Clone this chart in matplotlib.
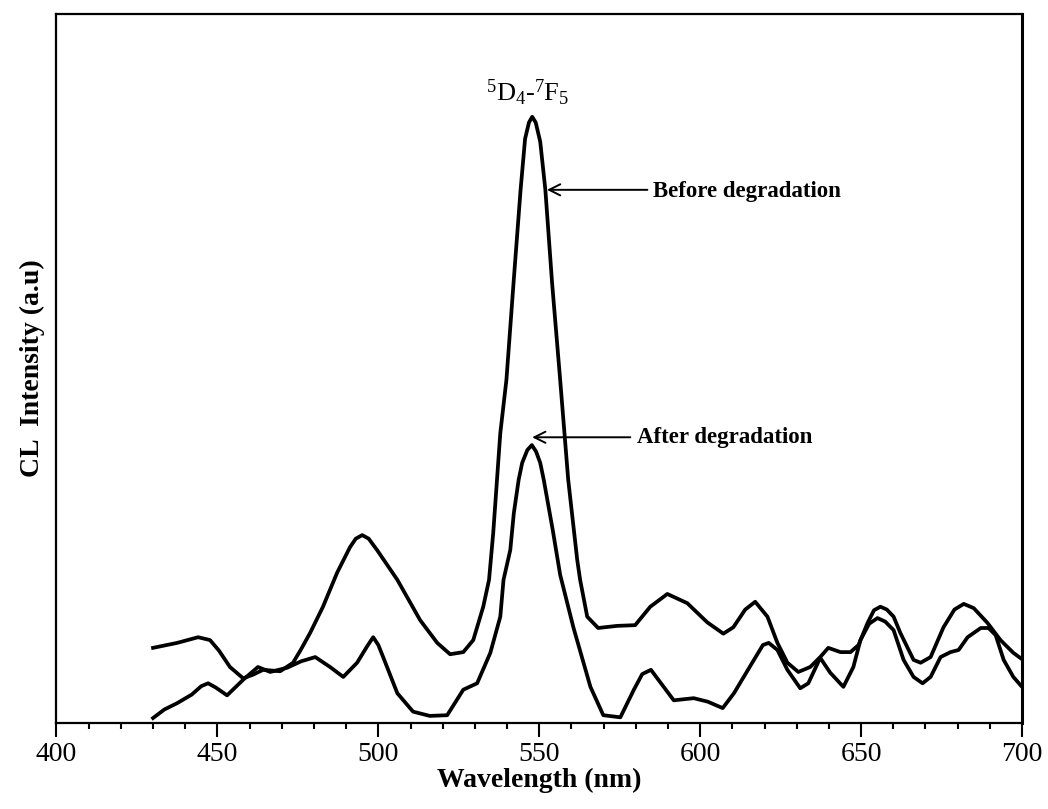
import matplotlib
matplotlib.use("Agg")
import matplotlib.pyplot as plt

plt.rcParams["font.family"] = ["Liberation Serif", "DejaVu Serif"]
plt.rcParams["mathtext.fontset"] = "custom"
plt.rcParams["mathtext.rm"] = "Liberation Serif"
plt.rcParams["mathtext.it"] = "Liberation Serif:italic"
plt.rcParams["mathtext.bf"] = "Liberation Serif:bold"

# CL spectra (wavelength in nm, intensity in arbitrary units)
wl_before = [430.0, 437.5, 444.0, 447.7, 450.5, 453.9, 458.0, 461.0, 464.2, 469.5,
             473.5, 476.0, 478.8, 482.8, 487.2, 491.2, 493.0, 495.0, 497.0, 499.6,
             505.9, 513.0, 518.3, 522.3, 526.4, 529.5, 532.6, 534.4, 535.7, 537.9,
             539.8, 542.0, 544.2, 545.6, 546.8, 547.8, 548.9, 550.3, 551.9, 554.0,
             556.5, 559.0, 561.8, 562.7, 564.9, 568.3, 574.2, 579.8, 584.5, 589.8,
             596.0, 602.2, 607.2, 610.3, 614.0, 617.1, 620.9, 624.0, 627.1, 630.5,
             634.2, 637.3, 639.8, 643.6, 646.7, 649.2, 652.0, 654.0, 656.0, 658.0,
             660.1, 662.2, 666.3, 668.5, 671.6, 675.6, 679.0, 681.9, 685.0, 689.3,
             693.3, 697.3, 700.0]
int_before = [10.6, 11.3, 12.1, 11.7, 10.2, 7.9, 6.3, 6.8, 7.5, 7.3,
              8.5, 10.4, 12.7, 16.4, 21.2, 24.8, 26.0, 26.5, 26.0, 24.4,
              20.2, 14.5, 11.3, 9.7, 10.0, 11.7, 16.4, 20.2, 26.8, 40.9,
              48.4, 62.0, 75.2, 82.4, 84.7, 85.5, 84.7, 82.0, 75.2, 62.0,
              48.4, 34.3, 23.0, 20.2, 15.0, 13.4, 13.7, 13.8, 16.4, 18.2,
              16.9, 14.2, 12.6, 13.5, 16.0, 17.1, 15.0, 11.3, 8.5, 7.2,
              7.9, 9.3, 10.6, 10.0, 10.0, 11.0, 14.1, 15.9, 16.4, 16.0,
              15.0, 12.7, 8.9, 8.5, 9.3, 13.5, 16.0, 16.8, 16.2, 14.1,
              11.7, 9.9, 9.0]

wl_after = [430.0, 433.5, 437.5, 442.0, 445.0, 447.1, 449.5, 453.0, 458.0, 462.6,
            466.4, 471.7, 476.0, 480.4, 485.0, 489.1, 493.4, 496.5, 498.4, 500.0,
            501.5, 505.9, 510.8, 516.0, 521.4, 526.4, 530.7, 534.8, 537.9, 538.9,
            541.0, 542.1, 543.6, 544.7, 546.3, 547.7, 549.0, 550.3, 551.4, 554.2,
            556.5, 560.6, 565.9, 569.9, 575.2, 579.4, 582.0, 584.7, 588.0, 591.8,
            598.0, 602.4, 607.0, 610.5, 616.7, 619.5, 621.3, 624.0, 627.1, 631.1,
            633.6, 637.3, 640.4, 644.5, 647.6, 649.8, 652.5, 655.1, 657.5, 660.1,
            663.2, 666.3, 669.1, 671.6, 674.7, 677.8, 680.3, 683.1, 687.2, 689.6,
            691.8, 694.3, 697.3, 700.0]
int_after = [0.7, 1.9, 2.8, 4.0, 5.2, 5.6, 5.0, 3.9, 6.1, 7.9,
             7.2, 7.8, 8.7, 9.3, 7.9, 6.5, 8.5, 10.8, 12.1, 11.0,
             9.3, 4.2, 1.6, 1.0, 1.1, 4.7, 5.6, 9.9, 15.0, 20.2,
             24.4, 29.6, 34.3, 36.7, 38.5, 39.2, 38.3, 36.7, 34.3, 27.2,
             20.9, 13.5, 5.1, 1.1, 0.8, 4.7, 6.9, 7.5, 5.5, 3.2,
             3.5, 3.0, 2.1, 4.2, 8.9, 11.0, 11.3, 10.3, 7.5, 4.9,
             5.6, 9.2, 7.1, 5.1, 7.9, 11.7, 14.0, 14.8, 14.3, 13.1,
             8.9, 6.5, 5.6, 6.5, 9.3, 10.0, 10.3, 12.1, 13.4, 13.4,
             12.4, 8.9, 6.5, 5.1]

x_ticks = [400, 450, 500, 550, 600, 650, 700]

fig = plt.figure(figsize=(10.48, 8.09), dpi=100)
ax = fig.add_axes([0.0539, 0.1063, 0.9213, 0.8764])

ax.plot(wl_before, int_before, color="black", lw=2.7, solid_joinstyle="round")
ax.plot(wl_after, int_after, color="black", lw=2.7, solid_joinstyle="round")

ax.set_xlim(400, 700)
ax.set_ylim(0, 100)
ax.set_xticks(x_ticks)
ax.set_xticks(range(400, 701, 10), minor=True)
ax.set_yticks([])
ax.tick_params(axis="x", which="major", direction="out", length=10, width=1.5,
               labelsize=20, pad=4)
ax.tick_params(axis="x", which="minor", direction="out", length=4.5, width=1.5)
for side in ["left", "top", "bottom"]:
    ax.spines[side].set_linewidth(1.6)
ax.spines["right"].set_linewidth(2.2)

ax.set_xlabel("Wavelength (nm)", fontsize=20, fontweight="bold", labelpad=0)
ax.set_ylabel("CL  Intensity (a.u)", fontsize=20, fontweight="bold", labelpad=8)

# transition label above the main peak
ax.text(546.3, 87.7, r"$^{5}$D$_{4}$-$^{7}$F$_{5}$", fontsize=19,
        ha="center", va="baseline")

# arrows pointing at the two spectra
arrow = dict(arrowstyle="->", color="black", lw=1.4, mutation_scale=20,
             shrinkA=0, shrinkB=0)
ax.annotate("", xy=(552.4, 75.2), xytext=(583.6, 75.2), arrowprops=arrow)
ax.text(585.2, 75.0, "Before degradation", fontsize=16.5, fontweight="bold",
        ha="left", va="center")
ax.annotate("", xy=(547.8, 40.3), xytext=(578.3, 40.3), arrowprops=arrow)
ax.text(580.5, 40.3, "After degradation", fontsize=16.5, fontweight="bold",
        ha="left", va="center")

fig.savefig("out.png", dpi=100)
